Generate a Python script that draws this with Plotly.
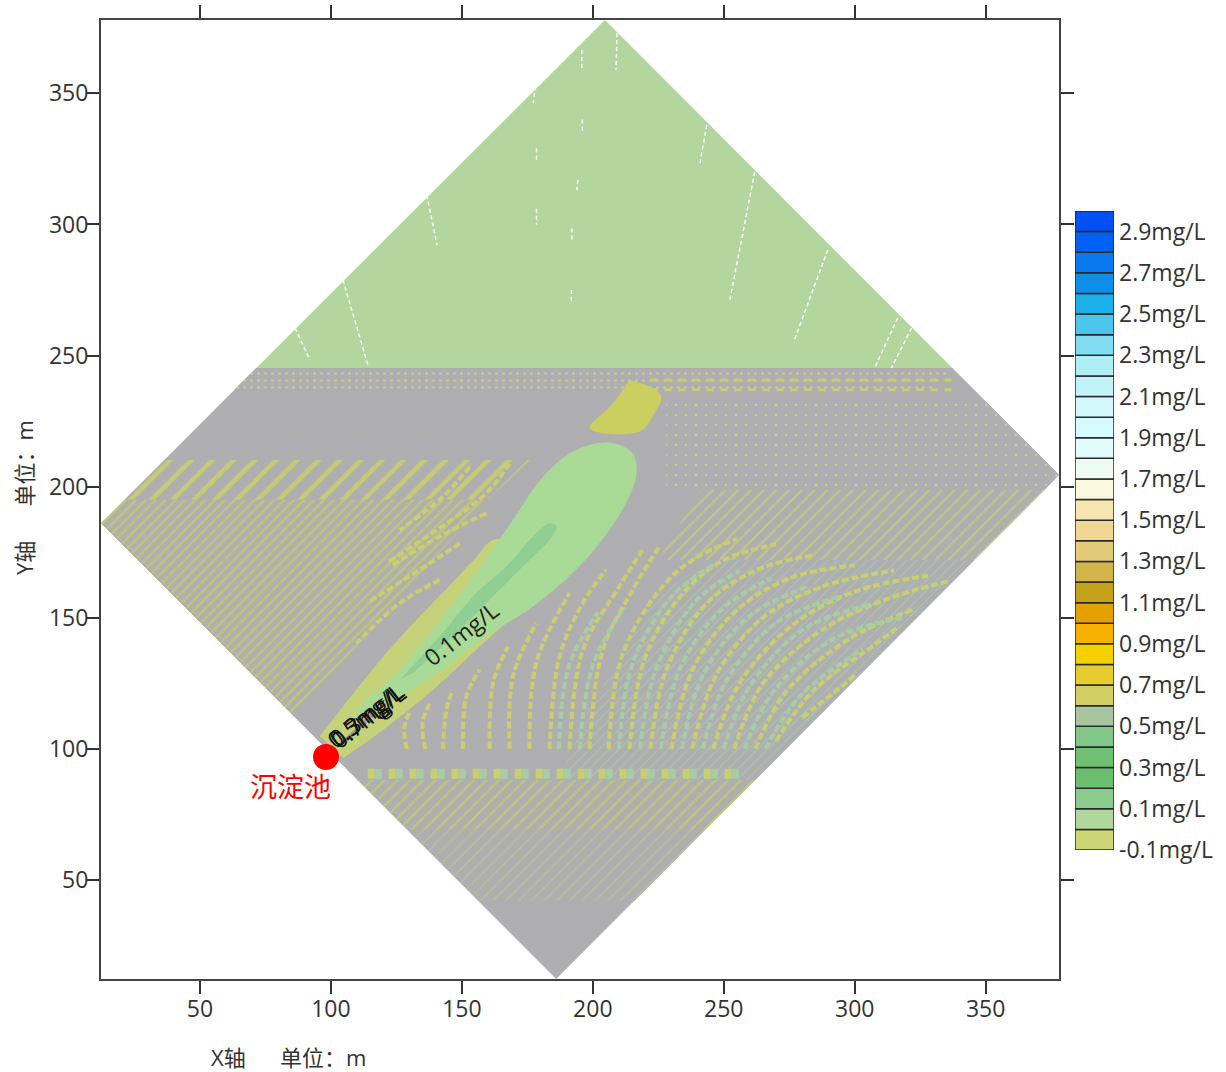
import plotly.graph_objects as go

FONT = "Open Sans, Noto Sans CJK SC, sans-serif"
GRAY = "#AFAFB1"
OLIVE = "#C9CF6E"
TEAL = "#A8CDA6"

# ---- regions (data units: metres) ----
green_x = [71.5, 204.6, 337.3]
green_y = [245.3, 378, 245.3]
gray_x = [71.5, 337.3, 378, 186, 12.2]
gray_y = [245.3, 245.3, 204.5, 12.2, 186]

top_band_x = [71.5, 337.3, 329, 63]
top_band_y = [245.3, 245.3, 237, 237]
left_rows_x = [36.4, 176, 160, 21.2]
left_rows_y = [210.2, 210.2, 195, 195]
left_fine_x = [12.2, 21.2, 160, 128, 100, 85]
left_fine_y = [186, 195, 195, 160, 128, 113.4]
right_faint_x = [228, 349.6, 378, 372.5, 228]
right_faint_y = [233, 233, 204.5, 198.7, 198.7]
right_rows_x = [241, 372.5, 345.8, 225]
right_rows_y = [198.7, 198.7, 172, 172]
right_low_x = [190, 225, 250, 345.8, 262, 190]
right_low_y = [100, 160, 172, 172, 88, 88]
low1_x = [110.3, 262, 243, 129.2]
low1_y = [88, 88, 69.2, 69.2]
low2_x = [129.2, 243, 216, 156.4]
low2_y = [69.2, 69.2, 42, 42]

blob_x = [214, 221.7, 226.1, 224.2, 217.9, 198.8, 206.5, 211.5]
blob_y = [240.7, 238.1, 234.3, 229.2, 221, 222.3, 230.5, 236.9]
halo_x = [95.8, 104.7, 120, 132.7, 146, 155, 163, 189.8, 177.1, 156.8, 139, 120, 104.7]
halo_y = [104.8, 116.2, 135.2, 149.2, 163, 172.5, 180, 167, 156.8, 139, 122.5, 107.3, 96.5]
plume_x = [107.3, 113.6, 122.5, 139, 154.2, 166.9, 182.2, 193.6, 206.3, 215.2, 216.7, 213.9, 206.3, 193.6, 177.1, 159.3, 142.8, 126.3, 118.7]
plume_y = [109.8, 118.7, 126.3, 145.4, 165.7, 183.5, 205.1, 214, 216.8, 212.7, 205.1, 196.2, 183.5, 168.3, 154.3, 142.9, 130.2, 120, 116.2]
core_x = [126.3, 141.5, 154.2, 166.9, 177.1, 183.5, 186.2, 183.5, 173.3, 163.1, 149.2, 131.4]
core_y = [126.3, 142.9, 158.1, 169.5, 180.9, 186, 184.8, 179.7, 169.5, 159.4, 145.4, 128.9]

# ---- olive contour fragments ----
arcs_left = [
    [(168.2, 208.9), (159.3, 197.5), (144.1, 186), (121.2, 170.8)],
    [(153, 207.6), (142.8, 196.2), (126.3, 183.5)],
    [(159.3, 189.8), (141.5, 181), (122.5, 169.5)],
    [(149.2, 178.4), (133.9, 168.3), (113.6, 155.6)],
    [(141.5, 164.4), (126.3, 155.6), (109.8, 140.3)],
]
arcs_right = [
    [(129, 100), (128, 108), (130, 114)],
    [(136, 100), (135, 110), (138, 118)],
    [(142.8, 100), (144.1, 114.9), (146.6, 122.5)],
    [(150.4, 100), (151.7, 120), (156.8, 130.2)],
    [(160.6, 100), (161.9, 125.1), (167.6, 139)],
    [(168.2, 100), (169.5, 127.6), (178.4, 147.9)],
    [(175.8, 100), (178.4, 132.7), (191.1, 159.4)],
    [(183.5, 100), (187.3, 135.2), (196.2, 155.6), (205, 168.3)],
    [(191.1, 100), (196.2, 137.8), (210.1, 161.9), (219, 175.9)],
    [(198.7, 100), (203.8, 137.8), (215.2, 160.6), (225.4, 177.1)],
    [(206, 100), (211, 135), (225, 160), (238, 172), (255, 180)],
    [(214, 100), (220, 135), (235, 160), (250, 172), (270, 178)],
    [(222, 100), (228, 130), (243, 155), (262, 168), (285, 174)],
    [(230, 100), (238, 130), (254, 152), (275, 165), (300, 170)],
    [(238, 100), (247, 128), (265, 150), (288, 162), (315, 168)],
    [(246, 100), (256, 125), (276, 147), (300, 160), (328, 166)],
    [(254, 100), (265, 125), (287, 145), (312, 157), (336, 164)],
    [(262, 100), (274, 122), (298, 142), (322, 153)],
    [(270, 103), (284, 122), (308, 140), (316, 146)],
    [(280, 112), (294, 123), (300, 128)],
]
arcs_teal = [
    [(187, 100), (191, 132), (202, 152)],
    [(195, 100), (200, 132), (212, 154)],
    [(210, 100), (215, 132), (230, 158), (246, 170)],
    [(218, 100), (224, 130), (239, 156), (256, 168)],
    [(226, 100), (233, 130), (249, 153), (268, 165)],
    [(234, 100), (242, 128), (259, 150), (282, 162)],
    [(242, 100), (251, 126), (270, 148), (294, 158)],
    [(250, 100), (260, 124), (281, 146), (306, 155)],
    [(258, 100), (269, 122), (292, 142), (318, 150)],
    [(266, 100), (279, 120), (303, 138)],
]
block_row_x = [114, 258]
block_row_y = [90.5, 90.5]
block_row2_x = [116.7, 258]
block_row2_y = [90.5, 90.5]
top_row_x = [222, 338]
top_row1_y = [240.7, 240.7]
top_row2_y = [237, 237]

white_streaks = [
    [(209.2, 373), (208.9, 359)], [(195.8, 366.6), (195.8, 359.7)], [(178, 352.8), (177.3, 346.3)],
    [(243.5, 338), (240.8, 322.7)], [(261.8, 320), (252.3, 271.2)], [(289.7, 290.3), (277, 256)],
    [(316.4, 264.3), (307.6, 245.3)], [(321.7, 260.5), (314, 245.3)], [(136.6, 311.3), (140.5, 292.2)],
    [(104.6, 278.8), (114.1, 246.4)], [(86.3, 260.5), (92, 248.3)], [(194.3, 317), (193.9, 313.2)],
    [(178.5, 306), (178.5, 300)], [(192, 298.5), (192, 293.5)], [(191.8, 275), (191.8, 271)],
    [(196, 340), (196, 335)], [(178.5, 329), (178.5, 324)],
]
streak_x = [103.7, 117]
streak_y = [101.5, 114]

source_x = [98.1]
source_y = [96.9]

# ---- legend ----
level_base = [round(-0.1 + 0.1 * i, 1) for i in range(31)]
level_size = [0.1] * 31
level_colors = [
    "#CDD577", "#B0D89E", "#8CCB8E", "#6ABE6E", "#6FC073", "#83C788", "#A8C5A0", "#CFCF63",
    "#E6CC2E", "#F5D000", "#F5B000", "#E3A000", "#C4A11A", "#D1B54A", "#E2CB78", "#F0D894",
    "#F7E5B0", "#FAF8DE", "#EFFCF5", "#E0FDFB", "#D6FBFF", "#D2F8FB", "#C0F2F8", "#B0EEF5",
    "#80DCF0", "#4CC6EC", "#1CB0EA", "#0E8EE8", "#0A78EE", "#0062F4", "#0050F5",
]
legend_ticks = [-0.1, 0.1, 0.3, 0.5, 0.7, 0.9, 1.1, 1.3, 1.5, 1.7, 1.9, 2.1, 2.3, 2.5, 2.7, 2.9]
legend_labels = [f"{v}mg/L" for v in legend_ticks]
axis_ticks = [50, 100, 150, 200, 250, 300, 350]

fig = go.Figure()


def region(x, y, color=None, pattern=None, smooth=False):
    kw = dict(x=x, y=y, mode="lines", fill="toself", hoverinfo="skip", showlegend=False,
              line=dict(width=0, shape="spline" if smooth else "linear"))
    if pattern:
        kw["fillcolor"] = GRAY
        kw["fillpattern"] = pattern
    else:
        kw["fillcolor"] = color
    fig.add_trace(go.Scatter(**kw))


def polyline(points, color, width, dash):
    fig.add_trace(go.Scatter(x=[p[0] for p in points], y=[p[1] for p in points], mode="lines",
                             line=dict(color=color, width=width, dash=dash, shape="spline"),
                             hoverinfo="skip", showlegend=False))


def pat(size, solidity, color=OLIVE, shape="/"):
    return dict(shape=shape, size=size, solidity=solidity, fgcolor=color, bgcolor=GRAY, fillmode="replace")


region(green_x, green_y, "#B2D69E")
region(gray_x, gray_y, GRAY)
region(top_band_x, top_band_y, pattern=pat(7, 0.12, "#C8CC90", "."))
region(left_rows_x, left_rows_y, pattern=pat(15, 0.3, "#C5CC74"))
region(left_fine_x, left_fine_y, pattern=pat(7, 0.35, "#BEC67A"))
region(right_faint_x, right_faint_y, pattern=pat(10, 0.05, "#C8CC90", "."))
region(right_rows_x, right_rows_y, pattern=pat(9, 0.24, "#C0C884"))
region(right_low_x, right_low_y, pattern=pat(7, 0.14, TEAL))
region(low1_x, low1_y, pattern=pat(9, 0.28, "#BEC67A"))
region(low2_x, low2_y, pattern=pat(9, 0.14, "#BEC08E"))

for arc in arcs_left + arcs_right:
    polyline(arc, OLIVE, 4, "7px,3px")
for arc in arcs_teal:
    polyline(arc, TEAL, 4, "7px,3px")
for rx, ry, col in [(block_row_x, block_row_y, OLIVE), (block_row2_x, block_row2_y, TEAL)]:
    fig.add_trace(go.Scatter(x=rx, y=ry, mode="lines", hoverinfo="skip", showlegend=False,
                             line=dict(color=col, width=10, dash="7px,14px")))
for ry in (top_row1_y, top_row2_y):
    fig.add_trace(go.Scatter(x=top_row_x, y=ry, mode="lines", hoverinfo="skip", showlegend=False,
                             line=dict(color=OLIVE, width=3, dash="7px,7px")))

region(blob_x, blob_y, "#C9D060", smooth=True)
region(halo_x, halo_y, "#C6D27A", smooth=True)
region(plume_x, plume_y, "#AADB96", smooth=True)
region(core_x, core_y, "#8FCF94", smooth=True)
polyline(list(zip(streak_x, streak_y)), "#9A9A9A", 4, "solid")
for s in white_streaks:
    polyline(s, "white", 1.5, "4px,3px")

fig.add_trace(go.Scatter(x=source_x, y=source_y, mode="markers", marker=dict(color="#FF0000", size=26),
                         hoverinfo="skip", showlegend=False))

fig.add_trace(go.Bar(x=[1] * 31, y=level_size, base=level_base, width=1, xaxis="x2", yaxis="y2",
                     marker=dict(color=level_colors, line=dict(color="#2A2A2A", width=1.5)),
                     hoverinfo="skip", showlegend=False))

center = dict(xanchor="center", yanchor="middle", showarrow=False)
annotations = [
    dict(x=150, y=144, text="0.1mg/L", textangle=-38, font=dict(family=FONT, size=23, color="#222"), **center),
    dict(x=113.7, y=113.3, text="0.3mg/L", textangle=-38, font=dict(family=FONT, size=23, color="#111"), **center),
    dict(x=112.7, y=112.6, text="0.5mg/L", textangle=-38, font=dict(family=FONT, size=23, color="#111"), **center),
    dict(x=114.4, y=112.4, text="0.7mg/L", textangle=-38, font=dict(family=FONT, size=23, color="#111"), **center),
    dict(x=84.7, y=86.2, text="沉淀池", font=dict(family="Noto Sans CJK SC, sans-serif", size=27, color="#FF0000"), **center),
    dict(x=288 / 1226, y=1 - 1057 / 1072, xref="paper", yref="paper", text="X轴      单位：m",
         font=dict(family=FONT, size=22, color="#333"), **center),
    dict(x=24 / 1226, y=1 - 498 / 1072, xref="paper", yref="paper", text="Y轴      单位：m", textangle=-90,
         font=dict(family=FONT, size=22, color="#333"), **center),
]

axis_style = dict(range=[12.2, 378], tickvals=axis_ticks, ticks="outside", ticklen=13, tickwidth=1.5,
                  tickcolor="#333", showline=True, linecolor="#444", linewidth=2, mirror="ticks",
                  showgrid=False, zeroline=False, automargin=False,
                  tickfont=dict(family=FONT, size=23, color="#333"))

fig.update_layout(
    width=1226, height=1072, margin=dict(l=0, r=0, t=0, b=0),
    paper_bgcolor="white", plot_bgcolor="white", showlegend=False, barmode="overlay",
    annotations=annotations,
    xaxis=dict(domain=[101 / 1226, 1059 / 1226], ticklabelstandoff=-5, **axis_style),
    yaxis=dict(domain=[1 - 979 / 1072, 1 - 20 / 1072], ticklabelstandoff=-7, **axis_style),
    xaxis2=dict(domain=[1075 / 1226, 1114 / 1226], range=[0.5, 1.5], anchor="y2", visible=False, automargin=False),
    yaxis2=dict(domain=[1 - 850 / 1072, 1 - 211 / 1072], range=[-0.1, 3.0], anchor="x2", side="right",
                tickvals=legend_ticks, ticktext=legend_labels, showgrid=False, zeroline=False, automargin=False,
                showline=False, ticks="", ticklabelstandoff=4, tickfont=dict(family=FONT, size=23, color="#333")),
)

fig.write_html("out.html", config={"displayModeBar": False}, post_script="document.body.style.margin='0';")
